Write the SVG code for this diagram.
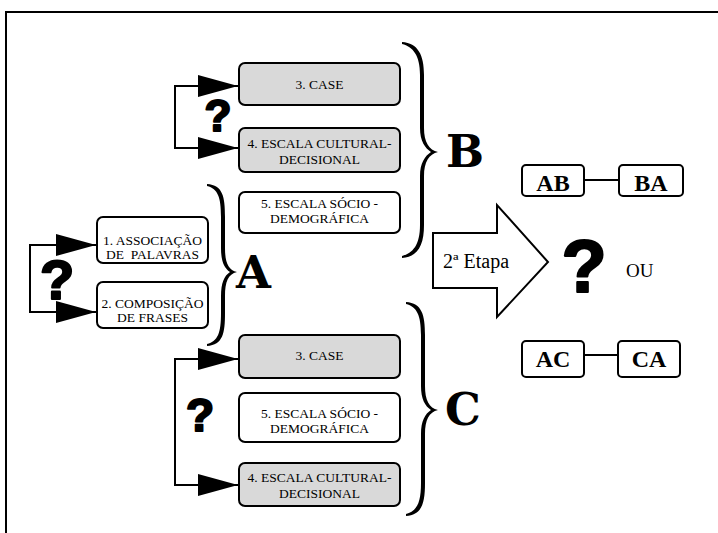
<svg xmlns="http://www.w3.org/2000/svg" width="718" height="533" viewBox="0 0 718 533">
  <style>
    .box { stroke: #000; stroke-width: 2; fill: #fff; }
    .gray { fill: #d9d9d9; }
    .lbl { font-family: "Liberation Serif", "Times New Roman", serif; font-size: 13.5px; text-anchor: middle; fill: #000; white-space: pre; }
    .pair { font-family: "Liberation Serif", "Times New Roman", serif; font-size: 24px; font-weight: bold; text-anchor: middle; fill: #000; }
    .q { font-family: "Liberation Sans", Arial, sans-serif; font-weight: bold; text-anchor: middle; fill: #000; stroke: #000; stroke-width: 2.2; stroke-linejoin: round; }
    .big { font-family: "DejaVu Serif", "Liberation Serif", serif; font-weight: bold; font-size: 45px; fill: #000; }
    .plain { font-family: "Liberation Serif", "Times New Roman", serif; fill: #000; }
    .conn { fill: none; stroke: #000; stroke-width: 2; }
    .brace { fill: #000; stroke: none; }
  </style>
  <defs>
    <marker id="head" markerUnits="userSpaceOnUse" markerWidth="42" markerHeight="24" refX="40" refY="11" orient="auto-start-reverse">
      <path d="M0,0 L40,11 L0,22 Z" fill="#000"/>
    </marker>
  </defs>

  <rect width="718" height="533" fill="#fff"/>
  <!-- outer frame -->
  <path d="M6 533 V12 H718" fill="none" stroke="#000" stroke-width="2"/>

  <!-- connectors -->
  <g id="connectors">
    <path class="conn" d="M238 86 H175 V148 H238" marker-start="url(#head)" marker-end="url(#head)"/>
    <path class="conn" d="M96 245 H30 V312 H96" marker-start="url(#head)" marker-end="url(#head)"/>
    <path class="conn" d="M238 359 H175 V485 H238" marker-start="url(#head)" marker-end="url(#head)"/>
    <path class="conn" d="M584 180 H619"/>
    <path class="conn" d="M584 355 H618"/>
  </g>

  <!-- question marks -->
  <text class="q" x="218" y="131" font-size="44">?</text>
  <text class="q" x="57" y="299" font-size="56">?</text>
  <text class="q" x="200" y="431" font-size="46">?</text>

  <!-- group B (top) -->
  <g id="b-case">
    <rect class="box gray" x="239" y="63" width="161" height="42" rx="6"/>
    <text class="lbl" x="319.5" y="89">3. CASE</text>
  </g>
  <g id="b-cultural">
    <rect class="box gray" x="239" y="128" width="161" height="44" rx="6"/>
    <text class="lbl" x="319.5" y="148">4. ESCALA CULTURAL-</text>
    <text class="lbl" x="319.5" y="164">DECISIONAL</text>
  </g>
  <g id="b-socio">
    <rect class="box" x="239" y="192" width="161" height="41" rx="6"/>
    <text class="lbl" x="319.5" y="208">5. ESCALA SÓCIO -</text>
    <text class="lbl" x="319.5" y="223">DEMOGRÁFICA</text>
  </g>

  <!-- group A (left) -->
  <g id="a-associacao">
    <rect class="box" x="97" y="217" width="111" height="46" rx="6"/>
    <text class="lbl" x="152.5" y="245">1. ASSOCIAÇÃO</text>
    <text class="lbl" x="152.5" y="259">DE  PALAVRAS</text>
  </g>
  <g id="a-composicao">
    <rect class="box" x="97" y="282" width="111" height="46" rx="6"/>
    <text class="lbl" x="152.5" y="308">2. COMPOSIÇÃO</text>
    <text class="lbl" x="152.5" y="322">DE FRASES</text>
  </g>

  <!-- group C (bottom) -->
  <g id="c-case">
    <rect class="box gray" x="239" y="335" width="161" height="43" rx="6"/>
    <text class="lbl" x="319.5" y="360">3. CASE</text>
  </g>
  <g id="c-socio">
    <rect class="box" x="239" y="393" width="161" height="49" rx="6"/>
    <text class="lbl" x="319.5" y="418">5. ESCALA SÓCIO -</text>
    <text class="lbl" x="319.5" y="433">DEMOGRÁFICA</text>
  </g>
  <g id="c-cultural">
    <rect class="box gray" x="239" y="463" width="161" height="43" rx="6"/>
    <text class="lbl" x="319.5" y="482">4. ESCALA CULTURAL-</text>
    <text class="lbl" x="319.5" y="498">DECISIONAL</text>
  </g>

  <!-- braces -->
  <g id="brace-b">
    <path class="brace" d="M402,42 C418,43 424,55 424,75 L424,128 C424,142 429,150 438,152 C429,154 424,162 424,176 L424,225 C424,245 418,257 402,258 L402,256 C413,253 420,245 420,225 L420,176 C420,163 425,156 431,152 C425,148 420,141 420,128 L420,75 C420,55 413,47 402,44 Z"/>
    <text class="big" x="446" y="167">B</text>
  </g>
  <g id="brace-a">
    <path class="brace" d="M207,184 C223,185 225,197 225,217 L225,248 C225,262 228,270 237,272 C228,274 225,282 225,296 L225,313 C225,333 223,345 207,346 L207,344 C218,341 221,333 221,313 L221,296 C221,283 224,276 230,272 C224,268 221,261 221,248 L221,217 C221,197 218,189 207,186 Z"/>
    <text class="big" x="236" y="288">A</text>
  </g>
  <g id="brace-c">
    <path class="brace" d="M406,302 C422,303 425,315 425,335 L425,386 C425,400 429,408 438,410 C429,412 425,420 425,434 L425,483 C425,503 422,515 406,516 L406,514 C417,511 421,503 421,483 L421,434 C421,421 425,414 431,410 C425,406 421,399 421,386 L421,335 C421,315 417,307 406,304 Z"/>
    <text class="big" x="445" y="425">C</text>
  </g>

  <!-- second stage arrow -->
  <g id="etapa">
    <polygon points="433,233 497,233 497,205 548,262 497,317 497,288 433,288" fill="#fff" stroke="#000" stroke-width="2"/>
    <text class="plain" x="443" y="268" font-size="20">2ª Etapa</text>
  </g>
  <text class="q" x="584" y="292" font-size="74">?</text>
  <text class="plain" x="626" y="277" font-size="19">OU</text>

  <!-- orderings -->
  <g id="ab">
    <rect class="box" x="522" y="165" width="62" height="31" rx="4"/>
    <text class="pair" x="553" y="191">AB</text>
  </g>
  <g id="ba">
    <rect class="box" x="619" y="165" width="64" height="31" rx="4"/>
    <text class="pair" x="651" y="191">BA</text>
  </g>
  <g id="ac">
    <rect class="box" x="522" y="341" width="62" height="36" rx="4"/>
    <text class="pair" x="553" y="367">AC</text>
  </g>
  <g id="ca">
    <rect class="box" x="618" y="341" width="62" height="36" rx="4"/>
    <text class="pair" x="649" y="367">CA</text>
  </g>
</svg>
